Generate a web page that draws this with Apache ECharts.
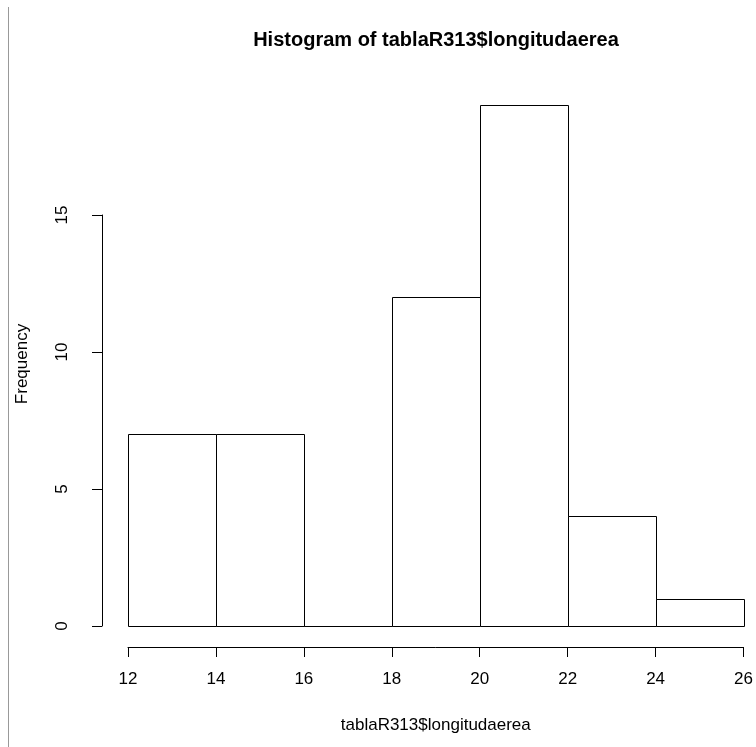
<!DOCTYPE html>
<html><head><meta charset="utf-8">
<script src="https://cdn.jsdelivr.net/npm/echarts@6/dist/echarts.min.js"></script>
<style>html,body{margin:0;padding:0;background:#fff}#c{width:756px;height:747px}</style>
</head><body><div id="c"></div>
<script>
const binStart = [12, 14, 16, 18, 20, 22, 24];
const binEnd   = [14, 16, 18, 20, 22, 24, 26];
const counts   = [7, 7, 0, 12, 19, 4, 1];
const xMin = 12, xMax = 26, xStep = 2;
const yMin = 0, yMax = 15, yStep = 5;
const titleText = 'Histogram of tablaR313$longitudaerea';
const xName = 'tablaR313$longitudaerea';
const yName = 'Frequency';

const FONT = 'Liberation Sans';
const chart = echarts.init(document.getElementById('c'), null, {renderer: 'canvas'});
const data = binStart.map((s, i) => [s, binEnd[i], counts[i]]);

chart.setOption({
  animation: false,
  backgroundColor: '#fff',
  grid: {left: 128, right: 11, top: 215, bottom: 121, containLabel: false},
  xAxis: {
    type: 'value', min: xMin, max: xMax, interval: xStep, offset: 21,
    splitLine: {show: false},
    axisLine: {show: true, onZero: false, lineStyle: {color: '#000', width: 1}},
    axisTick: {show: true, inside: false, length: 10, lineStyle: {color: '#000'}},
    axisLabel: {margin: 24, fontFamily: FONT, fontSize: 17, color: '#000'},
    name: xName, nameLocation: 'middle', nameGap: 70,
    nameTextStyle: {fontFamily: FONT, fontSize: 17, color: '#000'}
  },
  yAxis: {
    type: 'value', min: yMin, max: yMax, interval: yStep, offset: 26,
    splitLine: {show: false},
    axisLine: {show: true, lineStyle: {color: '#000', width: 1}},
    axisTick: {show: true, inside: false, length: 10, lineStyle: {color: '#000'}},
    axisLabel: {rotate: 90, margin: 31, fontFamily: FONT, fontSize: 17, color: '#000'}
  },
  graphic: [{
    type: 'line', shape: {x1: 8.5, y1: 7, x2: 8.5, y2: 747},
    style: {stroke: '#999', lineWidth: 1}
  }, {
    type: 'text', x: 436, y: 40,
    style: {text: titleText, fill: '#000', font: 'bold 20px "Liberation Sans"',
            textAlign: 'center', textVerticalAlign: 'middle'}
  }, {
    type: 'text', x: 22, y: 364, rotation: Math.PI / 2,
    style: {text: yName, fill: '#000', font: '17px "Liberation Sans"',
            textAlign: 'center', textVerticalAlign: 'middle'}
  }],
  series: [{
    type: 'custom',
    clip: false,
    data: data,
    renderItem: function (params, api) {
      const p0 = api.coord([api.value(0), api.value(2)]);
      const p1 = api.coord([api.value(1), 0]);
      return {
        type: 'rect',
        shape: {x: Math.round(p0[0]) + 0.5, y: Math.round(p0[1]) + 0.5,
                width: Math.round(p1[0]) - Math.round(p0[0]),
                height: Math.round(p1[1]) - Math.round(p0[1])},
        style: {fill: '#fff', stroke: '#000', lineWidth: 1}
      };
    },
    encode: {x: [0, 1], y: 2}
  }]
});
</script></body></html>
